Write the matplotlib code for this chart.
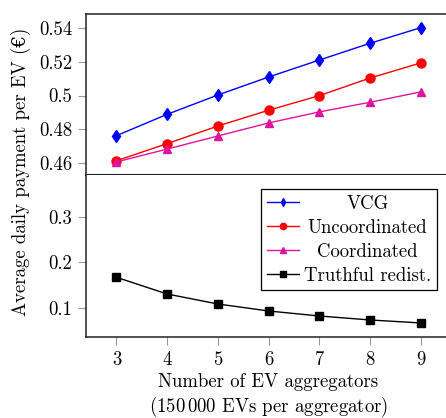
import numpy as np
import matplotlib
matplotlib.use("Agg")
import matplotlib.pyplot as plt

# 字体: Computer Modern
plt.rcParams['font.family'] = ['cmr10', 'DejaVu Serif']
plt.rcParams['mathtext.fontset'] = 'cm'
plt.rcParams['axes.formatter.use_mathtext'] = True
plt.rcParams['font.size'] = 13.5

# 聚合商数量
aggregators = [3, 4, 5, 6, 7, 8, 9]
# 各机制下每辆电动车的平均日支付
vcg = [0.4763, 0.4889, 0.5003, 0.5109, 0.5209, 0.5308, 0.5400]
uncoordinated = [0.4615, 0.4716, 0.4820, 0.4913, 0.4999, 0.5103, 0.5192]
coordinated = [0.4608, 0.4684, 0.4761, 0.4838, 0.4903, 0.4960, 0.5021]
truthful = [0.1677, 0.1312, 0.1094, 0.0941, 0.0832, 0.0745, 0.0680]

top_ticks = [0.46, 0.48, 0.50, 0.52, 0.54]
top_labels = ['0.46', '0.48', '0.5', '0.52', '0.54']
bottom_ticks = [0.1, 0.2, 0.3]
bottom_labels = ['0.1', '0.2', '0.3']

fig = plt.figure(figsize=(4.46, 4.18), dpi=100)
W, H = 446, 418
left, right = 86 / W, 451 / W
ax_top = fig.add_axes([left, 1 - 175 / H, right - left, (175 - 14) / H])
ax_bot = fig.add_axes([left, 1 - 337 / H, right - left, (337 - 175) / H])

# 上半部分: VCG / 非协调 / 协调
ax_top.plot(aggregators, vcg, color='blue', marker='d', markersize=6, lw=1, label='VCG')
ax_top.plot(aggregators, uncoordinated, color='red', marker='o', markersize=6.5, lw=1,
            label='Uncoordinated')
ax_top.plot(aggregators, coordinated, color='#e0149c', marker='^', markersize=6, lw=1,
            label='Coordinated')

# 下半部分: 真实再分配
ax_bot.plot(aggregators, truthful, color='black', marker='s', markersize=6, lw=1,
            label='Truthful redist.')

for ax in (ax_top, ax_bot):
    ax.set_xlim(2.4, 9.6)
    ax.set_xticks(aggregators)
    for s in ax.spines.values():
        s.set_linewidth(1.1)
        s.set_color('#222222')
    ax.tick_params(direction='out', length=5.5, width=0.8, color='#999999',
                   pad=4.5, labelsize=13.5)

ax_top.set_ylim(0.4531, 0.5481)
ax_top.set_yticks(top_ticks)
ax_top.set_yticklabels(top_labels)
ax_top.tick_params(axis='x', labelbottom=False)
ax_top.spines['bottom'].set_linewidth(1.5)

ax_bot.set_ylim(0.0373, 0.391)
ax_bot.set_yticks(bottom_ticks)
ax_bot.set_yticklabels(bottom_labels)
ax_bot.spines['top'].set_visible(False)
ax_bot.set_xticklabels([str(a) for a in aggregators])
ax_bot.set_xlabel('Number of EV aggregators\n(150$\\,$000 EVs per aggregator)',
                  fontsize=13.5, labelpad=3, linespacing=1.22)

fig.text(21 / W, 1 - 172 / H, 'Average daily payment per EV (€)', rotation=90,
         ha='center', va='center', fontsize=13.5)

# 图例放在下半部分, 合并四条曲线
handles = ax_top.get_lines() + ax_bot.get_lines()
leg = ax_bot.legend(handles, [h.get_label() for h in handles], loc='upper right',
                    bbox_to_anchor=(0.9616, 0.9136), borderaxespad=0, fancybox=False,
                    edgecolor='black', framealpha=1, fontsize=13.5, handlelength=1.7,
                    handletextpad=0.3, labelspacing=0.33, borderpad=0.3,
                    markerscale=0.7)
leg.get_frame().set_linewidth(0.9)

# 图例文字居中
fig.canvas.draw()
renderer = fig.canvas.get_renderer()
texts = leg.get_texts()
widths = [t.get_window_extent(renderer).width for t in texts]
wmax = max(widths)
for t, w in zip(texts, widths):
    t.set_position(((wmax - w) / 2, 0))

fig.savefig('out.png', dpi=100)
